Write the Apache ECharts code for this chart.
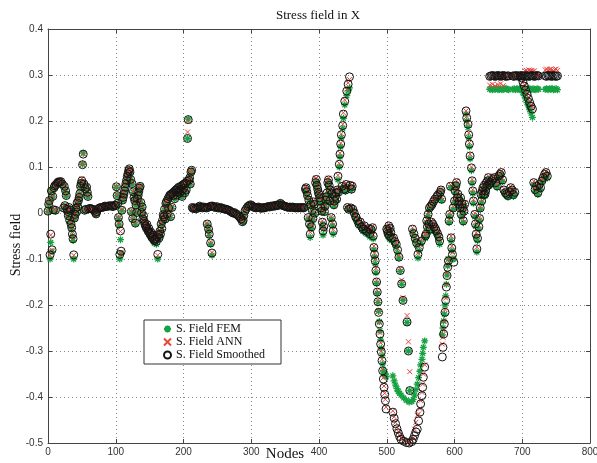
<!DOCTYPE html>
<html>
<head>
<meta charset="utf-8">
<script src="https://cdn.jsdelivr.net/npm/echarts@6/dist/echarts.min.js"></script>
<style>
  html, body { margin: 0; padding: 0; background: #fff; }
  #chart { width: 597px; height: 463px; }
</style>
</head>
<body>
<div id="chart"></div>
<script>
// Node numbers shared by the three stress series
const nodes = [
  // 0-60
  0,1,2,3,4,5,6,7,8,9,
  10,11,12,14,15,17,19,21,23,24,
  25,26,27,28,29,30,31,32,33,34,
  35,36,37,38,39,40,41,42,43,44,
  45,46,47,48,49,50,51,52,53,54,
  55,56,57,58,59,60,
  // 62-100
  62,64,66,68,70,71,72,74,76,78,
  80,82,84,86,88,90,92,94,96,98,
  100,
  // 101-139
  101,102,103,104,105,106,107,108,109,110,
  111,112,113,114,115,116,117,118,119,120,
  121,122,123,124,125,126,127,128,129,130,
  131,132,133,134,135,136,137,138,139,
  // 140-185
  140,141,142,143,144,145,146,147,148,149,
  150,151,152,153,154,155,156,157,158,159,
  160,161,162,163,164,165,166,167,168,169,
  170,171,172,173,174,175,176,177,178,179,
  180,181,182,183,184,185,
  // 186-213
  186,187,188,189,190,191,192,193,194,195,
  196,197,198,199,200,201,202,203,204,205,
  206,207,208,209,210,211,212,213,
  // 214-377
  214,216,218,220,222,224,226,228,230,232,
  234,235,236,237,238,239,240,241,242,243,
  245,247,249,251,253,255,257,259,261,263,
  265,267,269,271,273,275,277,279,281,283,
  285,287,288,289,291,293,295,297,299,301,
  303,305,307,309,311,313,315,317,319,321,
  323,325,327,329,331,333,335,337,339,341,
  343,345,347,349,351,353,355,357,359,361,
  363,365,367,369,371,373,375,377,
  // 378-449
  378,380,381,382,383,384,385,386,387,388,
  389,390,391,392,393,394,395,396,397,398,
  399,400,401,402,403,404,405,406,407,408,
  409,410,411,412,413,414,415,416,417,418,
  419,420,421,422,423,424,425,426,427,428,
  429,430,431,432,433,434,435,436,437,438,
  439,440,441,442,443,444,445,446,447,448,
  449,
  // 450-480
  450,452,454,455,457,459,461,463,465,467,
  469,471,473,475,477,479,480,
  // left flank of the trough
  481,482,483,484,485,486,487,488,489,490,
  491,492,493,494,495,496,497,498,499,
  // 500-507
  500,501,502,503,504,505,506,507,
  // trough floor
  509,511,513,515,517,519,521,525,529,533,
  537,539,541,543,545,547,549,550,552,553,
  554,556,
  // inner column
  510,512,514,516,518,520,522,524,530,532,
  534,
  // 538-558
  538,540,542,544,546,548,551,557,558,
  // 559-581
  559,560,561,562,563,564,565,566,567,568,
  569,570,571,572,573,574,575,576,577,578,
  579,580,581,
  // right flank
  582,583,584,585,586,587,588,589,590,591,
  // 592-615
  592,593,594,595,596,597,598,599,600,601,
  602,603,604,605,606,607,608,609,610,611,
  612,613,614,615,
  // second ramp
  617,618,620,621,622,623,625,626,627,628,
  630,631,632,633,634,636,637,
  // 638-651
  638,639,640,641,642,643,644,645,646,647,
  648,649,650,651,
  // upper plateau, left part
  652,654,656,658,660,662,664,666,668,670,
  672,674,676,678,680,
  // lower points 653-689
  653,655,657,659,661,663,665,667,669,671,
  673,675,677,679,681,683,685,687,689,
  // upper plateau, middle part
  686,688,690,692,694,696,698,700,702,704,
  706,708,710,712,714,716,718,720,722,724,
  // falling strand
  699,701,703,705,707,709,711,713,715,
  // lower points 717-737
  717,719,721,723,725,727,729,731,733,735,
  737,
  // upper plateau, right part
  734,736,738,740,742,744,746,748,750,752
];

// FEM stress field
const femField = [
  .003,.018,.026,-.1,-.064,.047,-.084,.035,.006,.053,
  .058,.004,.061,.064,.066,.067,.066,.062,.01,.056,
  .015,.047,.037,.006,.002,-.008,.011,-.018,.005,-.027,
  -.034,-.05,-.06,-.1,-.013,-.004,.009,0,.02,.012,
  .026,.033,.041,.056,.063,.068,.106,.13,.062,.005,
  .052,.007,.055,.044,.035,.008,
  .01,.008,.007,.005,0,-.003,.002,.009,.01,.011,
  .012,.012,.015,.013,.014,.015,.016,.014,.013,.017,
  .016,
  .056,.038,.02,-.012,-.026,-.1,-.058,-.088,.005,.027,
  .033,.04,.047,.055,.063,.07,.078,.084,.091,.095,
  .088,.072,.002,.063,-.014,.045,.033,.026,-.024,.016,
  0,.03,.037,.045,.053,.058,.022,0,.012,
  -.015,-.008,-.02,-.026,-.03,-.034,-.027,-.038,-.042,-.036,
  -.046,-.05,-.044,-.054,-.058,-.05,-.062,-.066,-.064,-.06,
  -.068,-.056,-.1,-.05,-.058,-.042,-.05,-.026,-.036,-.018,
  -.006,-.01,.006,-.015,.02,.024,-.005,.03,.01,.035,
  .038,-.01,.04,.01,.042,.036,
  .045,.03,.048,.05,.038,.052,.045,.055,.042,.05,
  .057,.047,.035,.06,.052,.062,.043,.064,.048,.068,
  .162,.204,.07,.075,.062,.088,.092,.011,
  .01,.011,.008,.009,.013,.015,.012,.01,.013,.012,
  .011,-.026,.012,-.037,-.049,.014,-.068,.015,-.092,.015,
  .013,.012,.014,.011,.011,.012,.01,.009,.009,.008,
  .007,.006,.004,.002,0,.001,-.002,-.004,-.006,-.01,
  -.014,-.02,-.017,-.006,.005,.01,.014,.016,.018,.016,
  .013,.012,.011,.012,.013,.011,.01,.012,.011,.012,
  .013,.014,.013,.015,.014,.016,.015,.017,.016,.018,
  .022,.018,.016,.015,.014,.013,.012,.013,.012,.013,
  .012,.011,.012,.011,.012,.011,.012,.011,
  .011,.048,.052,.043,.035,-.013,.025,-.028,-.053,.016,
  -.034,.004,-.015,.021,.017,-.003,.062,.069,.057,.049,
  .042,.037,.03,.023,.009,.002,-.024,-.048,-.034,.001,
  .013,.025,.032,.041,.062,.068,.056,.023,.047,-.013,
  .039,-.028,-.046,.015,.023,.033,.041,.027,.047,.072,
  .043,.1,.122,.144,.164,.055,.184,.206,.049,.235,
  .047,.058,.255,.01,.266,.006,.272,.056,.009,.049,
  .054,
  .006,-.003,-.012,-.014,-.022,-.028,-.024,-.035,-.04,-.033,
  -.044,-.046,-.038,-.052,-.04,-.036,-.056,
  -.08,-.096,-.11,-.13,-.153,-.175,-.195,-.214,-.236,-.256,
  -.276,-.294,-.31,-.328,-.342,-.348,-.352,-.35,-.356,
  -.04,-.044,-.05,-.032,-.056,-.038,-.047,-.06,
  -.354,-.365,-.374,-.382,-.388,-.392,-.396,-.402,-.407,-.411,
  -.41,-.405,-.396,-.384,-.372,-.358,-.344,-.33,-.318,-.305,
  -.292,-.278,
  -.06,-.068,-.074,-.086,-.098,-.127,-.155,-.19,-.238,-.3,
  -.386,
  -.04,-.05,-.06,-.07,-.098,-.082,-.066,-.055,-.05,
  -.021,-.034,-.006,-.028,.008,-.04,.012,-.024,.016,-.028,
  .022,-.035,.027,-.04,-.044,.033,-.05,.037,-.058,-.068,
  .042,.047,.027,
  -.265,-.25,-.235,-.22,-.2,-.18,-.155,-.135,-.115,-.1,
  -.021,-.007,.055,-.06,-.082,-.1,.008,-.1,.023,.045,
  .056,.062,.03,.038,.016,.023,.008,.03,-.007,.017,
  .008,-.021,.001,.016,
  .215,.2,.186,.164,.144,.118,.092,.065,.043,.021,
  -.008,-.029,-.052,-.085,-.06,-.035,-.016,
  .008,.037,.022,.044,.051,.036,.056,.037,.044,.062,
  .054,.066,.073,.058,
  .269,.27,.268,.27,.269,.271,.268,.269,.27,.268,
  .269,.27,.271,.269,.268,
  .062,.066,.07,.073,.062,.055,.076,.08,.084,.068,
  .046,.04,.037,.034,.042,.051,.046,.036,.041,
  .269,.27,.268,.27,.269,.271,.268,.269,.27,.268,
  .269,.27,.271,.269,.268,.27,.269,.268,.27,.269,
  .268,.262,.255,.248,.24,.233,.225,.217,.208,
  .062,.047,.054,.04,.058,.051,.066,.073,.08,.084,
  .076,
  .269,.27,.268,.27,.269,.271,.268,.269,.27,.268
];

// ANN stress field
const annField = [
  .005,.02,.028,-.092,-.048,.049,-.081,.037,.008,.056,
  .06,.007,.063,.067,.07,.072,.069,.064,.012,.059,
  .017,.05,.04,.009,.004,-.005,.013,-.015,.007,-.022,
  -.031,-.045,-.055,-.092,-.01,-.002,.012,.003,.024,.014,
  .029,.036,.043,.06,.066,.075,.106,.128,.065,.007,
  .055,.009,.058,.047,.038,.01,
  .011,.01,.008,.006,.002,-.002,.004,.01,.012,.013,
  .013,.014,.016,.015,.016,.016,.017,.015,.015,.018,
  .017,
  .058,.04,.022,-.009,-.022,-.092,-.04,-.085,.008,.03,
  .036,.043,.05,.058,.066,.072,.081,.087,.093,.097,
  .09,.075,.004,.066,-.01,.048,.036,.028,-.02,.019,
  .002,.033,.04,.048,.056,.06,.025,.003,.014,
  -.012,-.005,-.017,-.022,-.027,-.03,-.024,-.034,-.038,-.032,
  -.042,-.045,-.04,-.05,-.052,-.046,-.055,-.058,-.057,-.054,
  -.06,-.05,-.092,-.045,-.052,-.038,-.044,-.022,-.032,-.015,
  -.003,-.007,.01,-.012,.023,.027,0,.033,.012,.038,
  .04,-.006,.043,.013,.045,.04,
  .047,.033,.051,.052,.041,.055,.048,.058,.045,.053,
  .06,.05,.038,.063,.055,.065,.046,.067,.052,.07,
  .176,.2,.072,.078,.065,.09,.094,.013,
  .011,.012,.01,.011,.014,.016,.013,.012,.014,.013,
  .012,-.022,.013,-.033,-.044,.015,-.063,.016,-.086,.016,
  .014,.013,.015,.012,.012,.013,.011,.01,.01,.009,
  .008,.007,.005,.003,.001,.002,-.001,-.003,-.005,-.008,
  -.012,-.018,-.015,-.005,.006,.011,.015,.017,.019,.017,
  .014,.013,.012,.013,.014,.012,.011,.013,.012,.013,
  .014,.015,.014,.016,.015,.017,.016,.018,.017,.019,
  .022,.019,.017,.016,.015,.014,.013,.014,.013,.014,
  .013,.012,.013,.012,.013,.012,.013,.012,
  .013,.055,.058,.049,.04,-.008,.03,-.021,-.042,.02,
  -.027,.008,-.01,.026,.021,.002,.074,.076,.063,.055,
  .047,.043,.035,.028,.013,.006,-.017,-.036,-.027,.005,
  .017,.03,.038,.047,.072,.076,.063,.028,.053,-.008,
  .045,-.021,-.036,.02,.028,.038,.047,.033,.053,.082,
  .049,.108,.13,.152,.172,.061,.193,.218,.055,.246,
  .053,.065,.268,.014,.283,.01,.29,.063,.013,.055,
  .061,
  .01,.002,-.006,-.008,-.015,-.021,-.017,-.027,-.032,-.025,
  -.035,-.037,-.031,-.042,-.033,-.029,-.047,
  -.072,-.087,-.1,-.12,-.146,-.168,-.19,-.212,-.238,-.26,
  -.282,-.3,-.318,-.34,-.358,-.376,-.392,-.405,-.422,
  -.032,-.036,-.042,-.025,-.047,-.03,-.039,-.051,
  -.43,-.443,-.455,-.466,-.475,-.483,-.489,-.494,-.497,-.498,
  -.494,-.488,-.47,-.455,-.44,-.437,-.425,-.408,-.39,-.372,
  -.35,-.33,
  -.051,-.059,-.065,-.077,-.092,-.12,-.146,-.184,-.223,-.28,
  -.345,
  -.032,-.042,-.052,-.062,-.087,-.072,-.058,-.047,-.043,
  -.014,-.027,0,-.021,.014,-.032,.018,-.017,.022,-.021,
  .028,-.027,.033,-.032,-.036,.039,-.042,.043,-.049,-.058,
  .048,.053,.033,
  -.285,-.27,-.255,-.235,-.21,-.185,-.155,-.13,-.112,-.1,
  -.014,0,.062,-.05,-.072,-.086,.014,-.098,.029,.051,
  .062,.07,.036,.044,.022,.029,.014,.036,0,.023,
  .014,-.014,.007,.022,
  .222,.21,.196,.174,.153,.128,.1,.073,.051,.029,
  0,-.02,-.043,-.074,-.051,-.027,-.009,
  .014,.044,.029,.051,.058,.043,.063,.044,.051,.069,
  .061,.073,.08,.065,
  .278,.298,.28,.297,.276,.299,.279,.298,.281,.298,
  .277,.299,.298,.297,.299,
  .069,.073,.077,.08,.069,.062,.083,.087,.091,.075,
  .053,.047,.044,.041,.049,.058,.053,.043,.048,
  .298,.299,.297,.3,.298,.299,.3,.298,.299,.309,
  .31,.308,.311,.309,.31,.308,.309,.299,.298,.299,
  .296,.287,.279,.27,.261,.252,.243,.235,.228,
  .069,.054,.061,.047,.065,.058,.073,.08,.087,.091,
  .083,
  .311,.313,.31,.312,.313,.311,.309,.312,.313,.31
];

// Smoothed stress field
const smoothField = [
  .004,.019,.027,-.091,-.046,.048,-.08,.036,.007,.055,
  .059,.006,.062,.065,.067,.068,.068,.063,.011,.058,
  .016,.048,.038,.008,.003,-.006,.012,-.016,.006,-.024,
  -.032,-.046,-.056,-.091,-.011,-.003,.01,.002,.022,.013,
  .027,.034,.042,.058,.064,.07,.105,.128,.063,.006,
  .053,.008,.056,.045,.036,.009,
  .01,.009,.008,.006,.001,-.002,.003,.009,.011,.012,
  .012,.013,.015,.014,.015,.015,.016,.015,.014,.017,
  .016,
  .057,.038,.021,-.01,-.024,-.09,-.039,-.083,.006,.028,
  .034,.041,.048,.056,.064,.071,.079,.085,.092,.096,
  .089,.073,.003,.064,-.012,.046,.034,.027,-.022,.017,
  .001,.031,.038,.046,.054,.058,.023,.001,.013,
  -.013,-.006,-.018,-.024,-.028,-.032,-.025,-.036,-.04,-.034,
  -.044,-.047,-.042,-.052,-.054,-.048,-.057,-.06,-.059,-.056,
  -.062,-.052,-.09,-.047,-.054,-.04,-.046,-.024,-.034,-.016,
  -.004,-.008,.008,-.013,.021,.025,-.002,.031,.011,.036,
  .039,-.008,.041,.012,.043,.038,
  .046,.031,.049,.05,.039,.053,.046,.056,.043,.051,
  .058,.048,.036,.061,.053,.063,.044,.065,.05,.069,
  .162,.203,.071,.076,.063,.089,.093,.012,
  .01,.011,.009,.01,.013,.015,.012,.011,.013,.012,
  .011,-.024,.012,-.035,-.046,.014,-.065,.015,-.087,.015,
  .013,.012,.014,.011,.011,.012,.01,.009,.009,.008,
  .007,.006,.004,.002,0,.001,-.002,-.003,-.006,-.009,
  -.013,-.019,-.016,-.006,.005,.01,.014,.016,.018,.016,
  .013,.012,.011,.012,.013,.011,.01,.012,.011,.012,
  .013,.014,.013,.015,.014,.016,.015,.017,.016,.018,
  .021,.018,.016,.015,.014,.013,.012,.013,.012,.013,
  .012,.011,.012,.011,.012,.011,.012,.011,
  .012,.052,.055,.046,.038,-.01,.028,-.024,-.046,.018,
  -.03,.006,-.012,.024,.019,0,.066,.073,.06,.052,
  .045,.04,.033,.026,.011,.004,-.02,-.039,-.03,.003,
  .015,.028,.035,.044,.066,.072,.06,.026,.05,-.01,
  .042,-.024,-.039,.018,.026,.036,.044,.03,.05,.08,
  .046,.106,.128,.15,.17,.058,.19,.215,.052,.243,
  .05,.062,.265,.012,.28,.008,.296,.06,.011,.052,
  .058,
  .008,0,-.008,-.01,-.017,-.024,-.02,-.03,-.035,-.028,
  -.038,-.04,-.034,-.045,-.036,-.032,-.05,
  -.075,-.09,-.104,-.125,-.15,-.172,-.193,-.216,-.241,-.263,
  -.285,-.302,-.321,-.343,-.361,-.379,-.394,-.408,-.426,
  -.035,-.039,-.045,-.028,-.05,-.033,-.042,-.054,
  -.433,-.446,-.458,-.469,-.478,-.486,-.492,-.496,-.499,-.5,
  -.497,-.492,-.484,-.476,-.47,-.452,-.433,-.415,-.397,-.379,
  -.357,-.335,
  -.054,-.062,-.068,-.08,-.096,-.125,-.154,-.19,-.237,-.3,
  -.386,
  -.035,-.045,-.055,-.065,-.09,-.075,-.061,-.05,-.046,
  -.017,-.03,-.003,-.024,.011,-.035,.015,-.02,.019,-.024,
  .025,-.03,.03,-.035,-.039,.036,-.045,.04,-.052,-.061,
  .045,.05,.03,
  -.313,-.292,-.263,-.241,-.216,-.19,-.161,-.136,-.118,-.104,
  -.017,-.003,.058,-.054,-.076,-.09,.011,-.107,.026,.048,
  .059,.066,.033,.041,.019,.026,.011,.033,-.003,.02,
  .011,-.017,.004,.019,
  .222,.207,.193,.17,.15,.124,.098,.07,.048,.026,
  -.003,-.024,-.046,-.078,-.055,-.03,-.012,
  .011,.041,.026,.048,.055,.04,.06,.041,.048,.066,
  .058,.07,.077,.062,
  .297,.298,.299,.298,.297,.298,.299,.298,.297,.298,
  .299,.298,.297,.298,.298,
  .066,.07,.074,.077,.066,.059,.08,.084,.088,.072,
  .05,.044,.041,.038,.046,.055,.05,.04,.045,
  .298,.297,.299,.298,.298,.297,.299,.298,.298,.297,
  .299,.298,.297,.298,.299,.298,.297,.298,.299,.298,
  .294,.285,.276,.267,.258,.249,.24,.232,.226,
  .066,.051,.058,.044,.062,.055,.07,.077,.084,.088,
  .08,
  .298,.297,.299,.298,.298,.297,.299,.298,.297,.298
];

const seriesNames = ['S. Field FEM', 'S. Field ANN', 'S. Field Smoothed'];
const yTicks = { min: -0.5, max: 0.4, step: 0.1 };
const xTicks = { min: 0, max: 800, step: 100 };

const SERIF = '"Liberation Serif", "Times New Roman", Times, serif';
const SANS = '"Liberation Sans", Arial, Helvetica, sans-serif';

function toPoints(values) {
  return nodes.map((n, i) => [n, values[i]]);
}

const chart = echarts.init(document.getElementById('chart'), null, { renderer: 'canvas' });

const gridLine = { show: true, lineStyle: { color: '#8a8a8a', type: [1, 3], width: 1 } };
const frameLine = { show: true, onZero: false, lineStyle: { color: '#444', width: 1 } };
const innerTick = { show: true, inside: true, length: 4, lineStyle: { color: '#444' } };

chart.setOption({
  animation: false,
  backgroundColor: '#fff',
  grid: { left: 48, right: 7, top: 29, bottom: 20, containLabel: false, outerBoundsMode: 'none' },
  xAxis: [
    {
      type: 'value', min: xTicks.min, max: xTicks.max, interval: xTicks.step,
      axisLine: frameLine, axisTick: innerTick, splitLine: gridLine,
      axisLabel: { color: '#333', fontFamily: SANS, fontSize: 10, margin: 4 }
    },
    {
      type: 'value', position: 'top', min: xTicks.min, max: xTicks.max, interval: xTicks.step,
      axisLine: frameLine, axisTick: innerTick, splitLine: { show: false },
      axisLabel: { show: false }
    }
  ],
  yAxis: [
    {
      type: 'value', min: yTicks.min, max: yTicks.max, interval: yTicks.step,
      axisLine: frameLine, axisTick: innerTick, splitLine: gridLine,
      axisLabel: {
        color: '#333', fontFamily: SANS, fontSize: 10, margin: 5,
        formatter: v => String(+v.toFixed(1))
      }
    },
    {
      type: 'value', position: 'right', min: yTicks.min, max: yTicks.max, interval: yTicks.step,
      axisLine: frameLine, axisTick: innerTick, splitLine: { show: false },
      axisLabel: { show: false }
    }
  ],
  graphic: [
    {
      type: 'text', x: 318, y: 9, silent: true,
      style: { text: 'Stress field in X', font: '13px ' + SERIF, fill: '#111',
               textAlign: 'center', textVerticalAlign: 'top' }
    },
    {
      type: 'text', x: 16, y: 245, rotation: Math.PI / 2, silent: true,
      style: { text: 'Stress field', font: '14px ' + SERIF, fill: '#111',
               textAlign: 'center', textVerticalAlign: 'middle' }
    },
    {
      type: 'text', x: 285, y: 447, silent: true,
      style: { text: 'Nodes', font: '15px ' + SERIF, fill: '#111',
               textAlign: 'center', textVerticalAlign: 'top' }
    }
  ],
  legend: {
    orient: 'vertical', left: 144, top: 320,
    backgroundColor: '#fff', borderColor: '#333', borderWidth: 1, borderRadius: 0,
    padding: [3, 16, 3, 19], itemGap: 1, itemWidth: 7, itemHeight: 7,
    selectedMode: false,
    textStyle: { fontFamily: SERIF, fontSize: 12, color: '#111' },
    data: seriesNames
  },
  series: [
    {
      name: seriesNames[0], type: 'scatter', silent: true,
      symbol: 'path://M10 0L10 20M0 10L20 10M3 3L17 17M17 3L3 17',
      symbolSize: 7,
      itemStyle: { color: 'rgba(0,0,0,0)', borderColor: '#16a243', borderWidth: 1.3, opacity: 1 },
      data: toPoints(femField)
    },
    {
      name: seriesNames[1], type: 'scatter', silent: true,
      symbol: 'path://M0 0L20 20M20 0L0 20',
      symbolSize: 5,
      itemStyle: { color: 'rgba(0,0,0,0)', borderColor: '#e8453c', borderWidth: 1, opacity: 1 },
      data: toPoints(annField)
    },
    {
      name: seriesNames[2], type: 'scatter', silent: true,
      symbol: 'circle', symbolSize: 8,
      itemStyle: { color: 'rgba(0,0,0,0)', borderColor: '#141414', borderWidth: 1, opacity: 1 },
      data: toPoints(smoothField)
    }
  ]
});

if (nodes.length !== femField.length || nodes.length !== annField.length || nodes.length !== smoothField.length) {
  console.error('length mismatch', nodes.length, femField.length, annField.length, smoothField.length);
}
</script>
</body>
</html>
